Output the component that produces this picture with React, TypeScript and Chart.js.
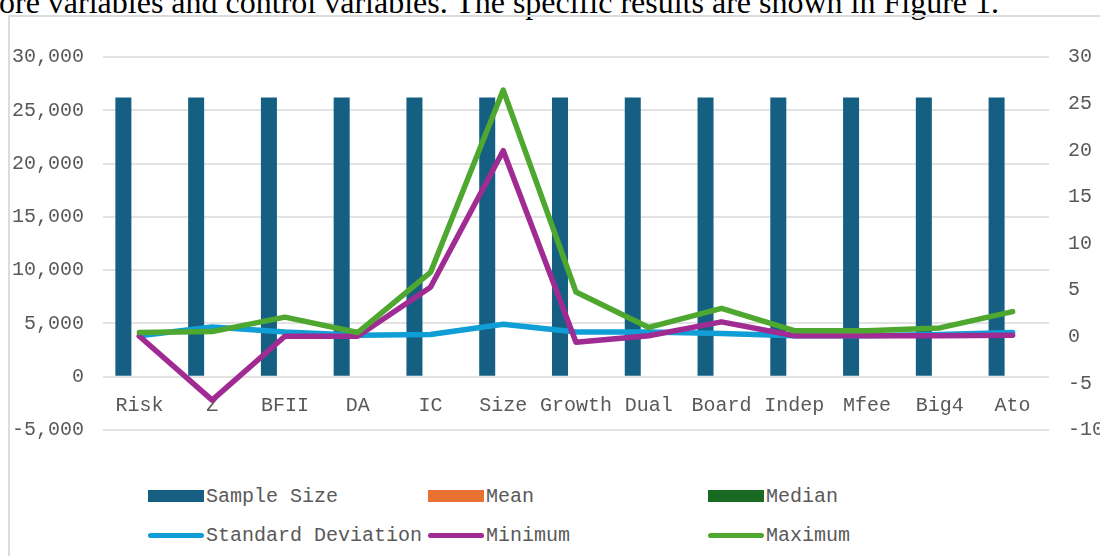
import React, { useEffect, useRef } from 'react';
import { Chart, registerables } from 'chart.js';

Chart.register(...registerables);

const categories = ['Risk', 'Z', 'BFII', 'DA', 'IC', 'Size', 'Growth', 'Dual', 'Board', 'Indep', 'Mfee', 'Big4', 'Ato'];
const sampleSize = [26200, 26200, 26200, 26200, 26200, 26200, 26200, 26200, 26200, 26200, 26200, 26200, 26200];
const meanValues = [0.05, 1.2, 0.4, 0.05, 6.2, 22.3, 0.4, 0.3, 2.1, 0.38, 0.4, 0.05, 0.6];
const medianValues = [0.03, 1.0, 0.3, 0.04, 6.1, 22.1, 0.3, 0.0, 2.2, 0.36, 0.35, 0.0, 0.5];
const stdDevValues = [0.1, 1.05, 0.5, 0.15, 0.25, 1.35, 0.5, 0.5, 0.35, 0.1, 0.1, 0.25, 0.45];
const minValues = [0.05, -6.8, 0.05, 0.05, 5.3, 19.95, -0.6, 0.1, 1.6, 0.1, 0.1, 0.1, 0.15];
const maxValues = [0.45, 0.55, 2.1, 0.45, 6.9, 26.45, 4.8, 1.0, 3.05, 0.65, 0.65, 0.95, 2.7];

const leftMin = -5000;
const leftMax = 30000;
const leftStep = 5000;
const rightMin = -10;
const rightMax = 30;
const rightStep = 5;

const legendItems = [
  { label: 'Sample Size', color: '#156082', kind: 'bar' },
  { label: 'Mean', color: '#E97132', kind: 'bar' },
  { label: 'Median', color: '#196B24', kind: 'bar' },
  { label: 'Standard Deviation', color: '#0F9ED5', kind: 'line' },
  { label: 'Minimum', color: '#A02B93', kind: 'line' },
  { label: 'Maximum', color: '#4EA72E', kind: 'line' },
];

const FONT_FAMILY = '"Liberation Mono", "DejaVu Sans Mono", monospace';
const TEXT_COLOR = '#595959';

function ChartCanvas() {
  const ref = useRef<HTMLCanvasElement | null>(null);
  useEffect(() => {
    if (!ref.current) return;
    const font = { family: FONT_FAMILY, size: 20 };
    const barCommon = { borderWidth: 0, inflateAmount: 0, categoryPercentage: 0.66, barPercentage: 1, yAxisID: 'y' };
    const lineCommon = { borderWidth: 5.5, pointRadius: 0, tension: 0, borderCapStyle: 'round', borderJoinStyle: 'round', yAxisID: 'y1' };
    const chart = new Chart(ref.current, {
      type: 'bar',
      data: {
        labels: categories,
        datasets: [
          { type: 'bar', label: 'Sample Size', data: sampleSize, backgroundColor: '#156082', ...barCommon, order: 6 },
          // Mean / Median sit on the primary (sample size) axis, so their bars are sub-pixel and invisible
          { type: 'bar', label: 'Mean', data: meanValues, backgroundColor: 'rgba(233,113,50,0)', ...barCommon, order: 7 },
          { type: 'bar', label: 'Median', data: medianValues, backgroundColor: 'rgba(25,107,36,0)', ...barCommon, order: 8 },
          { type: 'line', label: 'Standard Deviation', data: stdDevValues, borderColor: '#0F9ED5', backgroundColor: '#0F9ED5', ...lineCommon, order: 3 },
          { type: 'line', label: 'Minimum', data: minValues, borderColor: '#A02B93', backgroundColor: '#A02B93', ...lineCommon, order: 2 },
          { type: 'line', label: 'Maximum', data: maxValues, borderColor: '#4EA72E', backgroundColor: '#4EA72E', ...lineCommon, order: 1 },
        ],
      },
      options: {
        animation: false,
        responsive: false,
        devicePixelRatio: 1,
        layout: { padding: { top: 57, bottom: 40, left: 0, right: 0 } },
        plugins: { legend: { display: false }, tooltip: { enabled: false } },
        scales: {
          x: {
            type: 'category',
            position: { y: 0 },
            offset: true,
            grid: { display: false, drawTicks: false },
            border: { display: false },
            ticks: { font, color: TEXT_COLOR, padding: 17, maxRotation: 0, autoSkip: false },
          },
          y: {
            position: 'left',
            min: leftMin,
            max: leftMax,
            ticks: {
              stepSize: leftStep,
              padding: 19,
              font,
              color: TEXT_COLOR,
              callback: (v: any) => Number(v).toLocaleString('en-US'),
            },
            grid: { color: '#e2e2e2', lineWidth: 2, drawTicks: false },
            border: { display: false },
            afterFit: (s: any) => { s.width = 103; },
          },
          y1: {
            position: 'right',
            min: rightMin,
            max: rightMax,
            ticks: { stepSize: rightStep, padding: 19, font, color: TEXT_COLOR },
            grid: { display: false, drawTicks: false },
            border: { display: false },
            afterFit: (s: any) => { s.width = 51; },
          },
        },
      } as any,
    } as any);
    return () => chart.destroy();
  }, []);
  return <canvas ref={ref} width={1100} height={470} style={{ position: 'absolute', left: 0, top: 0, width: 1100, height: 470, display: 'block' }} />;
}

export default function App() {
  const colX = [148, 428, 708];
  const rowY = [496, 535];
  return (
    <div style={{ position: 'absolute', left: 0, top: 0, width: 1100, height: 556, overflow: 'hidden', background: '#fff' }}>
      <div style={{ position: 'absolute', left: -1, top: -14, fontFamily: '"Liberation Serif", serif', fontSize: 32, lineHeight: '32px', whiteSpace: 'nowrap', color: '#000' }}>
        ore variables and control variables. The specific results are shown in Figure 1.
      </div>
      <div style={{ position: 'absolute', left: 8, top: 15, width: 1200, height: 600, border: '2px solid #dcdcdc', boxSizing: 'border-box' }} />
      <ChartCanvas />
      {legendItems.map((item, i) => {
        const x = colX[i % 3];
        const y = rowY[Math.floor(i / 3)];
        return (
          <div key={item.label} style={{ position: 'absolute', left: x, top: y - 12, height: 24, display: 'flex', alignItems: 'center', fontFamily: FONT_FAMILY, fontSize: 20, color: TEXT_COLOR, whiteSpace: 'nowrap' }}>
            {item.kind === 'bar' ? (
              <span style={{ display: 'inline-block', width: 56, height: 12, background: item.color }} />
            ) : (
              <span style={{ display: 'inline-block', width: 56, height: 5, borderRadius: 3, background: item.color }} />
            )}
            <span style={{ marginLeft: 2 }}>{item.label}</span>
          </div>
        );
      })}
    </div>
  );
}
